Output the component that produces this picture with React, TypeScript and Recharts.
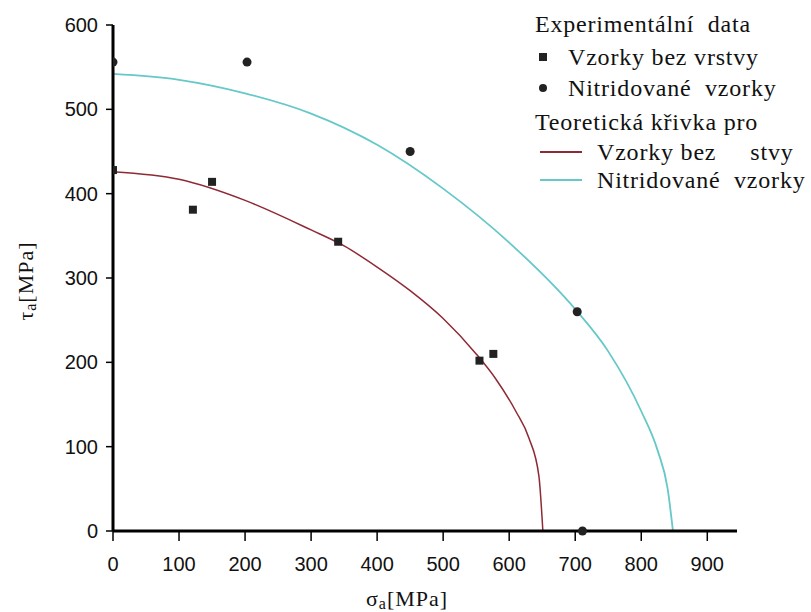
import React from 'react'
import {
  ComposedChart,
  Line,
  Scatter,
  XAxis,
  YAxis,
  Label
} from 'recharts'

// experimental points [sigma_a, tau_a] in MPa
const bareSigma = [0, 121, 150, 341, 555, 576]
const bareTau = [428, 381, 414, 343, 202, 210]
const nitridedSigma = [0, 203, 450, 703, 711]
const nitridedTau = [556, 556, 450, 260, 0]

// theoretical curves
const bareCurveSigma = [0, 100, 200, 300, 350, 400, 450, 500, 550, 580, 610, 630, 645, 651]
const bareCurveTau = [426, 417, 392, 357, 338, 313, 285, 252, 210, 180, 142, 110, 65, 0]
const nitridedCurveSigma = [0, 100, 200, 300, 400, 500, 600, 700, 750, 800, 825, 840, 848]
const nitridedCurveTau = [542, 535, 519, 495, 458, 406, 342, 263, 213, 142, 95, 50, 0]

const xTicks = [0, 100, 200, 300, 400, 500, 600, 700, 800, 900]
const yTicks = [0, 100, 200, 300, 400, 500, 600]

const zip = (xs: number[], ys: number[]) => xs.map((x, i) => ({ x, y: ys[i] }))

const bareData = zip(bareSigma, bareTau)
const nitridedData = zip(nitridedSigma, nitridedTau)
const bareCurve = zip(bareCurveSigma, bareCurveTau)
const nitridedCurve = zip(nitridedCurveSigma, nitridedCurveTau)

const RED = '#8e2a35'
const CYAN = '#66c8c8'
const SERIF = '"Liberation Serif", "Times New Roman", serif'
const TICK_FONT = '"Liberation Sans", Arial, sans-serif'

function LegendBox() {
  const row = { position: 'absolute' as const, whiteSpace: 'pre' as const, lineHeight: '24px' }
  return (
    <div style={{
      position: 'absolute', left: 520, top: 0, width: 291, height: 200,
      fontFamily: SERIF, fontSize: 24, letterSpacing: 0.8, color: '#111'
    }}>
      <div style={{ ...row, left: 15, top: 12 }}>Experimentální  data</div>
      <div style={{ position: 'absolute', left: 19, top: 53, width: 8, height: 8, background: '#222' }} />
      <div style={{ ...row, left: 48, top: 45 }}>Vzorky bez vrstvy</div>
      <div style={{ position: 'absolute', left: 19, top: 84, width: 8, height: 8, borderRadius: 4, background: '#222' }} />
      <div style={{ ...row, left: 48, top: 76 }}>Nitridované  vzorky</div>
      <div style={{ ...row, left: 15, top: 110 }}>Teoretická křivka pro</div>
      <div style={{ position: 'absolute', left: 20, top: 151, width: 42, height: 2, background: RED }} />
      <div style={{ ...row, left: 77, top: 140 }}>Vzorky bez     stvy</div>
      <div style={{ position: 'absolute', left: 20, top: 179, width: 42, height: 2, background: CYAN }} />
      <div style={{ ...row, left: 77, top: 168 }}>Nitridované  vzorky</div>
    </div>
  )
}

function YLabel() {
  const x = 25
  const y = 281
  return (
    <text x={x} y={y} transform={`rotate(-90 ${x} ${y})`} textAnchor="middle" dominantBaseline="central"
      fontFamily={SERIF} fontSize={22} letterSpacing={1} fill="#111">
      τ<tspan fontSize={16} dy={5}>a</tspan><tspan dy={-5}>[MPa]</tspan>
    </text>
  )
}

function XLabel() {
  return (
    <text x={407} y={598} textAnchor="middle" dominantBaseline="central"
      fontFamily={SERIF} fontSize={22} letterSpacing={1} fill="#111">
      σ<tspan fontSize={16} dy={5}>a</tspan><tspan dy={-5}>[MPa]</tspan>
    </text>
  )
}

export default function App() {
  return (
    <div style={{ position: 'absolute', left: 0, top: 0, width: 811, height: 612, background: '#fff' }}>
      <ComposedChart width={811} height={612} margin={{ top: 25, right: 74, left: 0, bottom: 0 }}>
        <XAxis
          type="number"
          dataKey="x"
          domain={[0, 945]}
          ticks={xTicks}
          allowDataOverflow
          height={81}
          tickSize={10}
          tickMargin={16}
          axisLine={{ stroke: '#000', strokeWidth: 3 }}
          tickLine={{ stroke: '#000', strokeWidth: 1.5 }}
          tick={{ fill: '#111', fontSize: 20, fontFamily: TICK_FONT }}
        >
          <Label content={<XLabel />} />
        </XAxis>
        <YAxis
          type="number"
          dataKey="y"
          domain={[0, 600]}
          ticks={yTicks}
          width={113}
          tickSize={7}
          tickMargin={8}
          axisLine={{ stroke: '#000', strokeWidth: 3 }}
          tickLine={{ stroke: '#000', strokeWidth: 1.5 }}
          tick={{ fill: '#111', fontSize: 20, fontFamily: TICK_FONT }}
        >
          <Label content={<YLabel />} />
        </YAxis>
        <Line
          data={bareCurve}
          dataKey="y"
          type="monotone"
          stroke={RED}
          strokeWidth={1.5}
          dot={false}
          activeDot={false}
          isAnimationActive={false}
          legendType="none"
        />
        <Line
          data={nitridedCurve}
          dataKey="y"
          type="monotone"
          stroke={CYAN}
          strokeWidth={1.8}
          dot={false}
          activeDot={false}
          isAnimationActive={false}
          legendType="none"
        />
        <Scatter data={bareData} dataKey="y" shape="square" fill="#222" isAnimationActive={false} />
        <Scatter data={nitridedData} dataKey="y" shape="circle" fill="#222" isAnimationActive={false} />
      </ComposedChart>
      <LegendBox />
    </div>
  )
}
